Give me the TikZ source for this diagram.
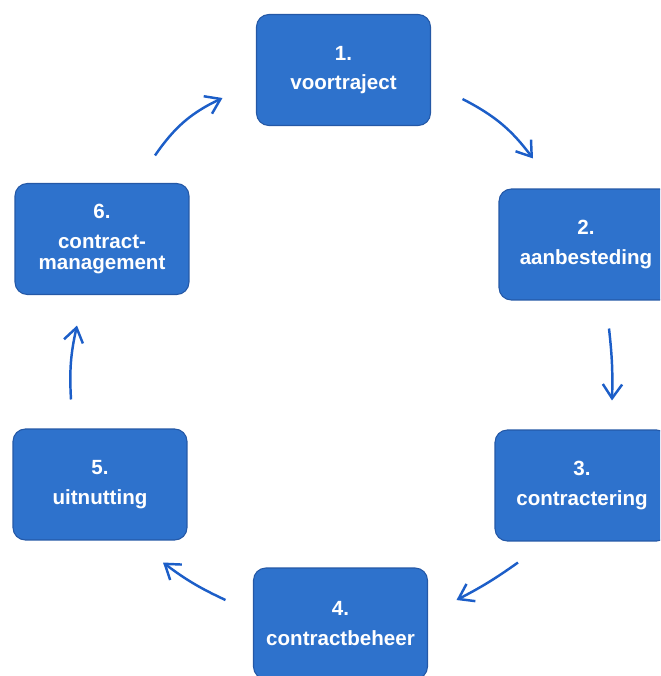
\documentclass[tikz,border=0pt]{standalone}
\usepackage{fontspec}
\setmainfont{Liberation Sans}
\usetikzlibrary{arrows.meta}
\definecolor{boxblue}{RGB}{46,114,204}
\definecolor{boxedge}{RGB}{36,88,166}
\definecolor{arrowblue}{RGB}{28,94,200}

\begin{document}
\begin{tikzpicture}[
  x = 0.02cm, y = -0.02cm,
  phase/.style = {draw = boxedge, line width = 0.6pt, fill = boxblue,
                  rounded corners = 7pt, inner sep = 0pt,
                  minimum width = 3.48cm, minimum height = 2.22cm,
                  text = white, align = center,
                  font = \fontsize{11.7}{12}\selectfont\bfseries},
  turn/.style = {draw = arrowblue, line width = 1.4pt,
                 -{Straight Barb[length = 8pt, width = 11pt]}},
  ]
  \useasboundingbox (0,0) rectangle (660,676);
  \clip (0,0) rectangle (660,676);

  \node[phase] (voortraject)   at (343.5,70)  {1.\\[5pt]voortraject};
  \node[phase] (aanbesteding)  at (586,244.5) {2.\\[5pt]aanbesteding};
  \node[phase] (contractering) at (582,485.5) {3.\\[5pt]contractering};
  \node[phase] (beheer)        at (340.5,623.5) {4.\\[5pt]contractbeheer};
  \node[phase] (uitnutting)    at (100,484.5) {5.\\[5pt]uitnutting};
  \node[phase] (management)    at (102,239)   {6.\\[5pt]contract-\\management};

  % arrow ends, free of the boxes
  \coordinate (s61) at ([shift={(53,-27.5)}]management.north);
  \coordinate (e61) at ([shift={(-33.5,28)}]voortraject.west);
  \coordinate (s12) at ([shift={(31.5,29)}]voortraject.east);
  \coordinate (e12) at ([shift={(-53,-30)}]aanbesteding.north);
  \coordinate (s23) at ([shift={(23,28)}]aanbesteding.south);
  \coordinate (e23) at ([shift={(30,-29)}]contractering.north);
  \coordinate (s34) at ([shift={(-64,21)}]contractering.south);
  \coordinate (e34) at ([shift={(28.5,-23.5)}]beheer.east);
  \coordinate (s45) at ([shift={(-27.5,-23.5)}]beheer.west);
  \coordinate (e45) at ([shift={(63,22)}]uitnutting.south);
  \coordinate (s56) at ([shift={(-29,-29)}]uitnutting.north);
  \coordinate (e56) at ([shift={(-25,30.5)}]management.south);

  \draw[turn] (s61) to[bend left = 15] (e61);
  \draw[turn] (s12) to[bend left = 13] (e12);
  \draw[turn] (s23) to[bend left = 4]  (e23);
  \draw[turn] (s34) to[bend left = 4]  (e34);
  \draw[turn] (s45) to[bend left = 6]  (e45);
  \draw[turn] (s56) to[bend left = 8]  (e56);
\end{tikzpicture}
\end{document}
